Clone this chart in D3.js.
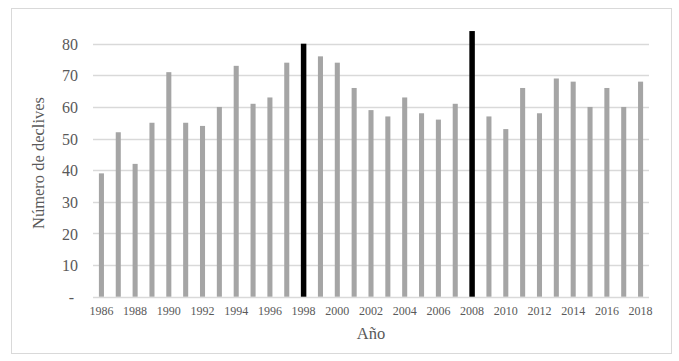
<!DOCTYPE html>
<html lang="es">
<head>
<meta charset="UTF-8">
<title>Número de declives</title>
<script src="https://cdn.jsdelivr.net/npm/d3@7"></script>
<style>
  body { margin: 0; background: #fff; }
  text { font-family: "Liberation Serif", "Times New Roman", serif; fill: #595959; }
</style>
</head>
<body>
<script>
// data
const years = d3.range(1986, 2019).map(String);
const declives = [39, 52, 42, 55, 71, 55, 54, 60, 73, 61, 63, 74, 80, 76, 74, 66, 59, 57, 63, 58, 56, 61, 84, 57, 53, 66, 58, 69, 68, 60, 66, 60, 68];
const highlighted = ["1998", "2008"];
const yTicks = [0, 10, 20, 30, 40, 50, 60, 70, 80];

const W = 679, H = 361;
const plot = { left: 93, right: 649, top: 43.7, bottom: 296.7 };

const svg = d3.select("body").append("svg")
    .attr("width", W)
    .attr("height", H);

// chart frame
svg.append("rect")
    .attr("x", 11.5).attr("y", 8.5)
    .attr("width", 660).attr("height", 345)
    .attr("fill", "#fff")
    .attr("stroke", "#d9d9d9");

const x = d3.scaleBand()
    .domain(years)
    .range([plot.left, plot.right])
    .paddingInner(0.7)
    .paddingOuter(0.35);

const y = d3.scaleLinear()
    .domain([0, 80])
    .range([plot.bottom, plot.top]);

// gridlines
svg.append("g")
    .selectAll("line")
    .data(yTicks)
    .join("line")
    .attr("x1", plot.left).attr("x2", plot.right)
    .attr("y1", d => Math.round(y(d)) + 0.5)
    .attr("y2", d => Math.round(y(d)) + 0.5)
    .attr("stroke", "#d9d9d9")
    .attr("stroke-width", 1.3);

// bars
const data = years.map((yr, i) => ({ year: yr, value: declives[i] }));
svg.append("g")
    .selectAll("rect")
    .data(data)
    .join("rect")
    .attr("x", d => {
        const w = highlighted.includes(d.year) ? 5.5 : x.bandwidth();
        return x(d.year) + x.bandwidth() / 2 - w / 2;
    })
    .attr("width", d => highlighted.includes(d.year) ? 5.5 : x.bandwidth())
    .attr("y", d => y(d.value))
    .attr("height", d => y(0) - y(d.value))
    .attr("fill", d => highlighted.includes(d.year) ? "#000" : "#a5a5a5");

// y axis labels
const yAxis = d3.axisLeft(y)
    .tickValues(yTicks)
    .tickSize(0)
    .tickPadding(0)
    .tickFormat(d => d === 0 ? "-" : d);
svg.append("g")
    .attr("transform", "translate(78,0)")
    .call(yAxis)
    .call(g => g.select(".domain").remove())
    .call(g => g.selectAll("text")
        .attr("fill", "#595959")
        .style("font-family", "'Liberation Serif', serif")
        .style("font-size", "16px")
        .attr("dy", "0.35em"))
    .call(g => g.selectAll("text").filter(d => d === 0).attr("dx", "-4px"));

// x axis labels, every other year
const xAxis = d3.axisBottom(x)
    .tickValues(years.filter((d, i) => i % 2 === 0))
    .tickSize(0)
    .tickPadding(0);
svg.append("g")
    .attr("transform", `translate(0,${plot.bottom + 10})`)
    .call(xAxis)
    .call(g => g.select(".domain").remove())
    .call(g => g.selectAll("text")
        .attr("fill", "#595959")
        .style("font-family", "'Liberation Serif', serif")
        .style("font-size", "12px")
        .attr("dy", "0.71em"));

// axis titles
svg.append("text")
    .attr("x", 371)
    .attr("y", 339)
    .attr("text-anchor", "middle")
    .style("font-size", "16.5px")
    .text("Año");

svg.append("text")
    .attr("transform", "translate(44,163) rotate(-90)")
    .attr("text-anchor", "middle")
    .style("font-size", "16.5px")
    .text("Número de declives");
</script>
</body>
</html>
